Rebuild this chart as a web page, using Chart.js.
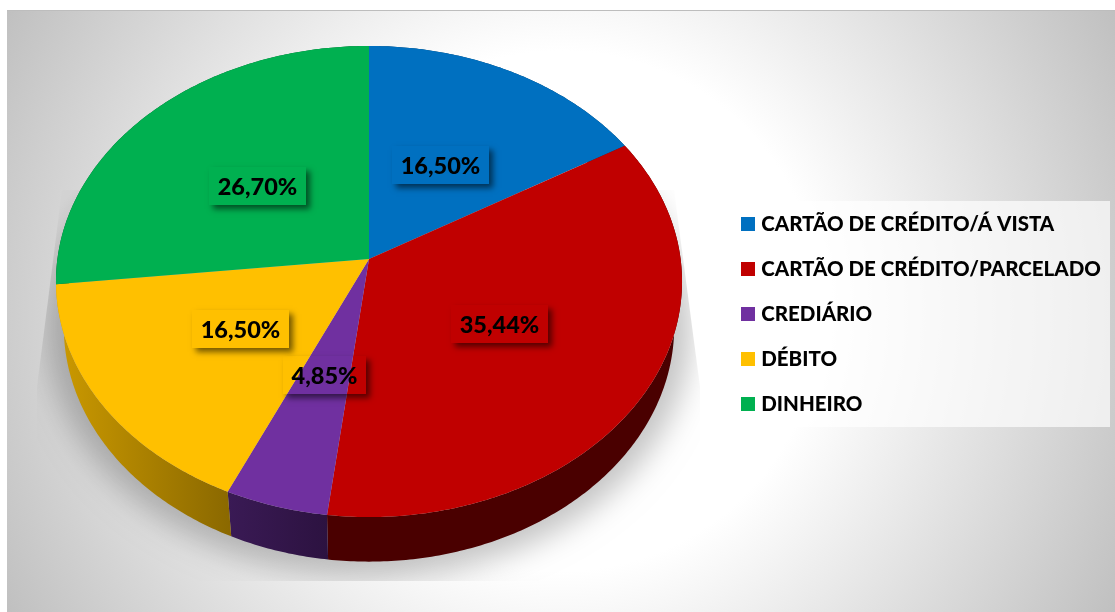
<!DOCTYPE html>
<html>
<head>
<meta charset="utf-8">
<style>
html, body { margin: 0; background: #fff; }
canvas { display: block; }
</style>
<script src="https://cdn.jsdelivr.net/npm/chart.js@4/dist/chart.umd.min.js"></script>
</head>
<body>
<canvas id="chart" width="1115" height="612"></canvas>
<script>
var categories = ["CARTÃO DE CRÉDITO/Á VISTA", "CARTÃO DE CRÉDITO/PARCELADO", "CREDIÁRIO", "DÉBITO", "DINHEIRO"];
var shares = [16.50, 35.44, 4.85, 16.50, 26.70];
var sliceColors = ["#0070c0", "#c00000", "#7030a0", "#ffc000", "#00b050"];
var sideColorsLeft = ["#003a63", "#4a0000", "#3a1a55", "#cc9a00", "#005c2a"];
var sideColorsRight = ["#003a63", "#4a0000", "#2c1240", "#8a6800", "#005c2a"];

var FONT = "Lato, sans-serif";
var TILT = 0.0955;          // perspective of the disc
var SQUASH = 233.4 / 311.6; // depth axis against width axis

// unit disc to screen, arc angles are the ones Chart.js computed
function project(arc, angle, fraction) {
    var t = angle + Math.PI / 2,
        u = Math.sin(t) * fraction,
        v = Math.cos(t) * fraction,
        w = 1 + TILT * v;
    return {
        x: arc.x + arc.outerRadius * u / w,
        y: arc.y - arc.outerRadius * SQUASH * v / w
    };
}

// same point on the lower rim of the disc
function lower(arc, p) {
    return {
        x: arc.x + (p.x - arc.x) * 0.975,
        y: 327 + (p.y - 281.7) * 0.997
    };
}

function rimPoints(arc) {
    var steps = Math.max(2, Math.ceil((arc.endAngle - arc.startAngle) * 90)),
        pts = [],
        i;
    for (i = 0; i <= steps; i += 1) {
        pts.push(project(arc, arc.startAngle + (arc.endAngle - arc.startAngle) * i / steps, 1));
    }
    return pts;
}

function drawSide(ctx, arc, i) {
    var pts = rimPoints(arc),
        low = pts.map(function (p) { return lower(arc, p); }),
        xs = pts.concat(low).map(function (p) { return p.x; }),
        grad = ctx.createLinearGradient(Math.min.apply(null, xs), 0, Math.max.apply(null, xs), 0);
    grad.addColorStop(0, sideColorsLeft[i]);
    grad.addColorStop(1, sideColorsRight[i]);
    ctx.fillStyle = grad;
    ctx.beginPath();
    pts.forEach(function (p, n) {
        if (n === 0) { ctx.moveTo(p.x, p.y); } else { ctx.lineTo(p.x, p.y); }
    });
    low.reverse().forEach(function (p) { ctx.lineTo(p.x, p.y); });
    ctx.closePath();
    ctx.fill();
}

function drawTop(ctx, arc, i) {
    ctx.fillStyle = sliceColors[i];
    ctx.beginPath();
    ctx.moveTo(arc.x, arc.y);
    rimPoints(arc).forEach(function (p) { ctx.lineTo(p.x, p.y); });
    ctx.closePath();
    ctx.fill();
}

function drawLabel(ctx, arc, value) {
    var mid = (arc.startAngle + arc.endAngle) / 2,
        p = project(arc, mid, 0.49),
        text = value.toFixed(2).replace(".", ",") + "%",
        bw,
        bh = 38,
        bx,
        by;
    ctx.font = "900 23.5px " + FONT;
    bw = Math.round(ctx.measureText(text).width + 17);
    bx = Math.round(p.x - bw / 2) - 1;
    by = Math.round(p.y - bh / 2) + 1;

    // only the shadow of the label box shows, the slice stays visible inside it
    ctx.save();
    ctx.beginPath();
    ctx.rect(0, 0, 1115, 612);
    ctx.rect(bx, by, bw, bh);
    ctx.clip("evenodd");
    ctx.shadowColor = "rgba(0, 0, 0, 0.55)";
    ctx.shadowBlur = 6;
    ctx.shadowOffsetX = 3004;
    ctx.shadowOffsetY = 4;
    ctx.fillStyle = "#000";
    ctx.fillRect(bx - 3000, by, bw, bh);
    ctx.restore();

    ctx.fillStyle = "#000";
    ctx.textAlign = "center";
    ctx.textBaseline = "middle";
    ctx.fillText(text, bx + bw / 2, by + bh / 2 + 1);
}

var scenePlugin = {
    id: "scene",
    afterLayout: function (chart) {
        // pie apex and legend position inside the frame
        chart.chartArea.left = 0;
        chart.chartArea.right = 738;
        chart.chartArea.top = 0;
        chart.chartArea.bottom = 518;
        chart.legend.left = 720.5;
        chart.legend.right = 1129;
        chart.legend.top = 189.25;
        chart.legend.bottom = 439;
    },
    beforeDraw: function (chart) {
        var ctx = chart.ctx,
            grad;
        ctx.save();
        ctx.fillStyle = "#fff";
        ctx.fillRect(0, 0, 1115, 612);

        grad = ctx.createRadialGradient(561, 311, 260, 561, 311, 630);
        grad.addColorStop(0, "#ffffff");
        grad.addColorStop(1, "#c0c0c0");
        ctx.fillStyle = grad;
        ctx.fillRect(7, 10, 1108, 602);
        ctx.fillStyle = "#bdbdbd";
        ctx.fillRect(7, 10, 1108, 1);

        // cast shadow, cut off to its flat trapezoid
        ctx.save();
        ctx.beginPath();
        ctx.moveTo(62, 190);
        ctx.lineTo(37, 387);
        ctx.lineTo(37, 581);
        ctx.lineTo(700, 581);
        ctx.lineTo(700, 387);
        ctx.lineTo(674, 190);
        ctx.closePath();
        ctx.clip();
        ctx.shadowColor = "rgba(0, 0, 0, 0.23)";
        ctx.shadowBlur = 30;
        ctx.shadowOffsetX = 3000;
        ctx.fillStyle = "#000";
        ctx.beginPath();
        ctx.ellipse(369 - 3000, 327, 322, 250, 0, 0, Math.PI * 2);
        ctx.fill();
        ctx.restore();

        // legend panel
        ctx.fillStyle = "rgba(255, 255, 255, 0.68)";
        ctx.fillRect(729, 201, 381, 226);
        ctx.restore();
    },
    beforeDatasetDraw: function (chart, args) {
        var ctx = chart.ctx,
            arcs = args.meta.data;
        ctx.save();
        arcs.forEach(function (arc, i) { drawSide(ctx, arc, i); });
        arcs.forEach(function (arc, i) { drawTop(ctx, arc, i); });
        ctx.restore();
        return false;
    },
    afterDatasetsDraw: function (chart) {
        var ctx = chart.ctx;
        ctx.save();
        chart.getDatasetMeta(0).data.forEach(function (arc, i) {
            drawLabel(ctx, arc, shares[i]);
        });
        ctx.restore();
    }
};

new Chart(document.getElementById("chart"), {
    type: "pie",
    data: {
        labels: categories,
        datasets: [{
            data: shares,
            backgroundColor: sliceColors,
            borderWidth: 0
        }]
    },
    options: {
        responsive: false,
        animation: false,
        radius: 311.6,
        plugins: {
            tooltip: { enabled: false },
            legend: {
                position: "right",
                align: "start",
                labels: {
                    color: "#000",
                    // thin box plus a thick stroke: 14px swatch, text closer to it than the default gap
                    boxWidth: 6,
                    boxHeight: 6,
                    padding: 24.5,
                    font: { family: FONT, size: 20.5, weight: "900" },
                    generateLabels: function (chart) {
                        return Chart.overrides.pie.plugins.legend.labels.generateLabels(chart).map(function (item) {
                            item.strokeStyle = item.fillStyle;
                            item.lineWidth = 8;
                            return item;
                        });
                    }
                }
            }
        }
    },
    plugins: [scenePlugin]
});
</script>
</body>
</html>
